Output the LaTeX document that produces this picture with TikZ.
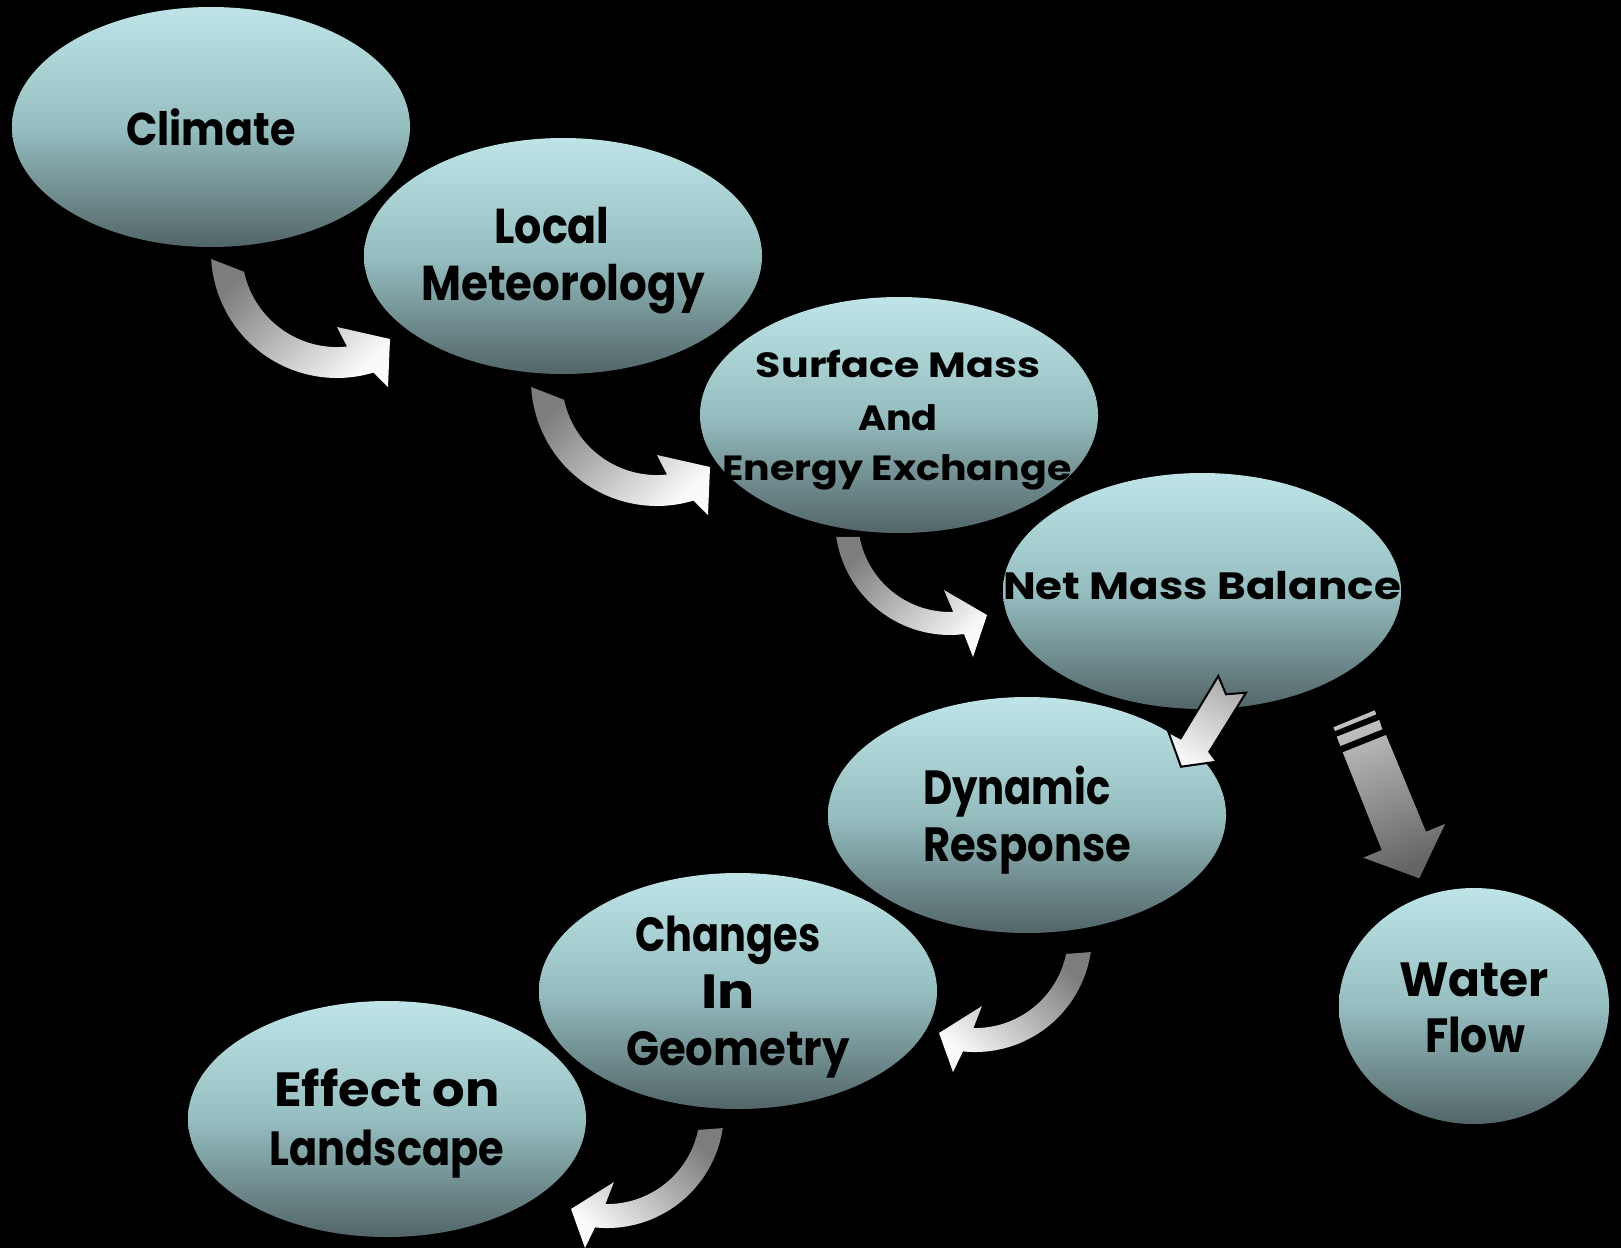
\documentclass[tikz,border=0pt]{standalone}
\usepackage{fontspec}
\setmainfont{Poppins}
\usetikzlibrary{shapes.geometric}
\definecolor{ctop}{RGB}{190,228,231}
\definecolor{cmid}{RGB}{150,190,193}
\definecolor{cbot}{RGB}{82,101,103}
\definecolor{agray}{RGB}{125,125,125}
\definecolor{awhite}{RGB}{250,250,250}
\definecolor{sgray}{RGB}{172,172,172}
\definecolor{swhite}{RGB}{246,246,246}
\definecolor{wtop}{RGB}{192,192,192}
\definecolor{wbot}{RGB}{100,100,100}
\newcommand\hsc[2]{\scalebox{#1}[1]{#2}}
\begin{document}
\begin{tikzpicture}[x=0.5pt,y=-0.5pt,
  blob/.style={ellipse, draw=none, inner sep=0pt, outer sep=0pt,
    minimum width=199pt, minimum height=118pt,
    top color=ctop, bottom color=cbot, middle color=cmid},
  lbl/.style={anchor=base, inner sep=0pt, outer sep=0pt, text=black,
    font=\bfseries\fontsize{#1}{#1}\selectfont},
  curlfill/.style={top color=agray, bottom color=awhite, shading angle=#1},
  curlA/.pic={\fill[curlfill=45] (211.2,259) -- (244.1,271.8)
      arc[start angle=168, end angle=84, radius=95]
      -- (337,327) -- (390,339) -- (388,387) -- (373.4,372.6)
      arc[start angle=73.2, end angle=176.8, radius=126] -- cycle;},
  curlB/.pic={\fill[curlfill=-45] (1090.7,952.1) -- (1066.1,953.9)
      arc[start angle=11.7, end angle=91, radius=93]
      -- (982,1006) -- (939,1033) -- (953,1072) -- (963,1051.4)
      arc[start angle=95.9, end angle=8.4, radius=117] -- cycle;}
]
\useasboundingbox (0,0) rectangle (1621,1248);
\fill[black] (0,0) rectangle (1621,1248);

% ellipses
\node[blob, minimum height=120pt] (climate) at (211,127) {};
\node[blob] (local) at (563,256) {};
\node[blob] (surface) at (899,415) {};
\node[blob] (net) at (1202,591) {};
\node[blob] (dynamic) at (1027,815) {};
\node[blob] (changes) at (738,991) {};
\node[blob] (effect) at (387,1119) {};
\node[blob, minimum width=135pt] (water) at (1474,1006) {};

% labels
\node[lbl=23] (climate-t) at (211,145) {\hsc{0.896}{Climate}};
\node[lbl=24.5] (local-t1) at (552,243) {\hsc{0.873}{Local}};
\node[lbl=24.5] (local-t2) at (563,300) {\hsc{0.889}{Meteorology}};
\node[lbl=17.5] (surface-t1) at (898,377) {\hsc{1.176}{Surface Mass}};
\node[lbl=17.5] (surface-t2) at (898,430) {\hsc{1.09}{And}};
\node[lbl=17.5] (surface-t3) at (897,480) {\hsc{1.128}{Energy Exchange}};
\node[lbl=19] (net-t) at (1202,599) {\hsc{1.148}{Net Mass Balance}};
\node[lbl=24, anchor=base west] (dynamic-t1) at (923,804) {\hsc{0.837}{Dynamic}};
\node[lbl=24, anchor=base west] (dynamic-t2) at (923,861) {\hsc{0.869}{Response}};
\node[lbl=24] (changes-t1) at (728,951) {\hsc{0.831}{Changes}};
\node[lbl=24] (changes-t2) at (728,1008) {\hsc{1.15}{In}};
\node[lbl=24] (changes-t3) at (738,1065) {\hsc{0.903}{Geometry}};
\node[lbl=24] (effect-t1) at (387,1106) {\hsc{1.064}{Effect on}};
\node[lbl=24] (effect-t2) at (387,1165) {\hsc{0.865}{Landscape}};
\node[lbl=24] (water-t1) at (1474,996) {\hsc{0.98}{Water}};
\node[lbl=24] (water-t2) at (1475,1052) {\hsc{0.887}{Flow}};

% curved block arrows
\pic (arrow1) at (0,0) {curlA};
\pic (arrow2) at (320,128) {curlA};
\fill[curlfill=45] (836.2,536.8) -- (859.6,536.9)
  arc[start angle=169.4, end angle=88, radius=92]
  -- (944,590) -- (987,615) -- (973,657) -- (964,634.1)
  arc[start angle=83, end angle=171.6, radius=115] -- cycle;
\pic (arrow4) at (0,0) {curlB};
\pic (arrow5) at (-368,176) {curlB};

% notched arrow net -> dynamic
\draw[black, line width=1pt, line join=miter, top color=sgray, bottom color=swhite, shading angle=-30]
  (1218.3,676) -- (1226,694.3) -- (1246,692.7) -- (1209.3,751.7)
  -- (1216.7,761.7) -- (1181,766.7) -- (1168.3,731.7) -- (1180.7,738.3) -- cycle;

% striped arrow net -> water
\fill[top color=wtop, bottom color=wbot, shading angle=20]
  (1333.3,727.3) -- (1374.7,710.3) -- (1376.3,714.3) -- (1335,731) -- cycle
  (1336.7,736.7) -- (1379.3,720) -- (1382.3,729.3) -- (1340.3,746) -- cycle
  (1342.7,752.3) -- (1386,735) -- (1426,831.7) -- (1445,824)
  -- (1419.3,878.3) -- (1363.3,857.7) -- (1381.7,850) -- cycle;
\end{tikzpicture}
\end{document}
